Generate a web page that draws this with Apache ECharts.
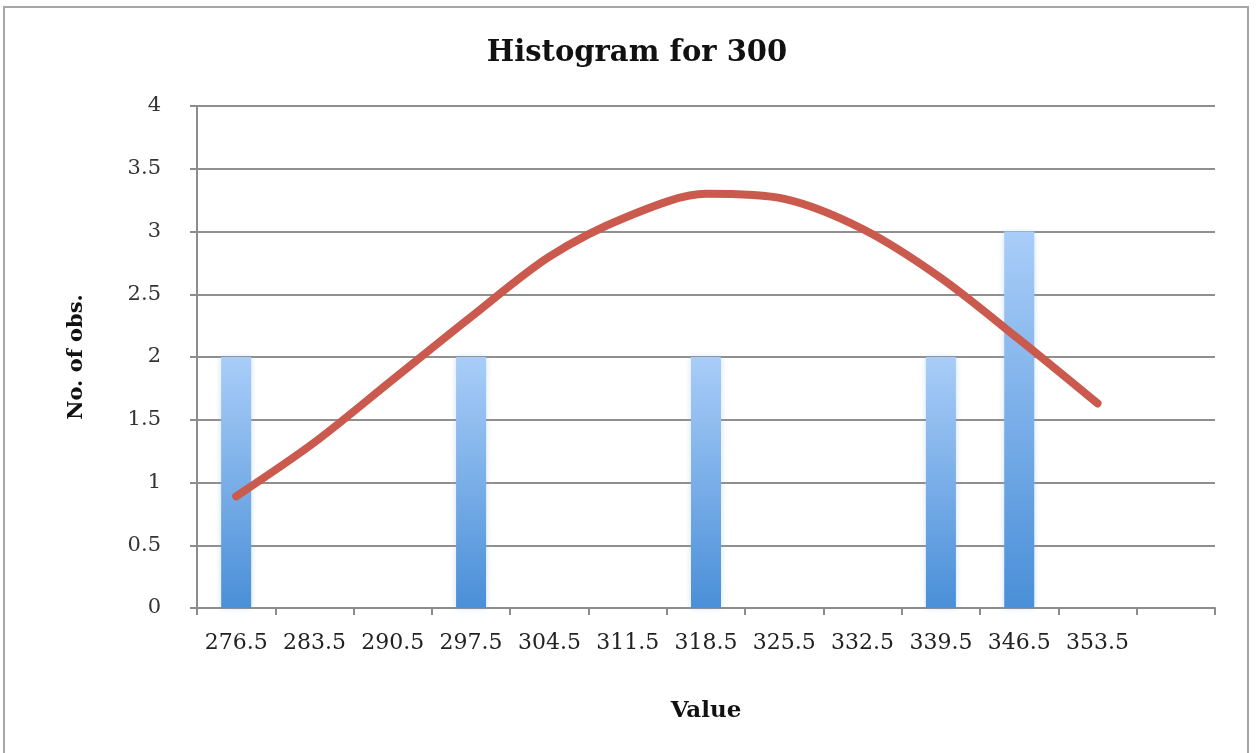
<!DOCTYPE html>
<html>
<head>
<meta charset="utf-8">
<script src="https://cdn.jsdelivr.net/npm/echarts@6/dist/echarts.min.js"></script>
<style>
html,body{margin:0;padding:0;background:#fff;}
#frame{position:absolute;left:3px;top:6px;width:1246px;height:760px;border:2px solid #a6a6a6;box-sizing:border-box;}
#chart{position:absolute;left:0;top:0;width:1257px;height:753px;}
</style>
</head>
<body>
<div id="frame"></div>
<div id="chart"></div>
<script>
const categories = ['276.5','283.5','290.5','297.5','304.5','311.5','318.5','325.5','332.5','339.5','346.5','353.5',''];
const counts = [2, null, null, 2, null, null, 2, null, null, 2, 3, null, null];
const normalCurve = [0.89, 1.32, 1.82, 2.32, 2.80, 3.12, 3.30, 3.26, 3.02, 2.63, 2.14, 1.63, null];
const yTicks = [0, 0.5, 1, 1.5, 2, 2.5, 3, 3.5, 4];

const chart = echarts.init(document.getElementById('chart'), null, {renderer: 'canvas'});
const serif = '"DejaVu Serif", "Liberation Serif", serif';
chart.setOption({
  animation: false,
  backgroundColor: 'transparent',
  title: {
    text: 'Histogram for 300',
    left: 632, top: 34, textAlign: 'center',
    textStyle: {fontFamily: serif, fontWeight: 'bold', fontSize: 29, color: '#111'}
  },
  grid: {left: 197, right: 42, top: 106, bottom: 145},
  xAxis: {
    type: 'category',
    data: categories,
    boundaryGap: true,
    name: 'Value',
    nameLocation: 'middle',
    nameGap: 92,
    nameTextStyle: {fontFamily: serif, fontWeight: 'bold', fontSize: 23, color: '#111'},
    axisLine: {lineStyle: {color: '#8c8c8c', width: 2}},
    axisTick: {show: true, length: 7, lineStyle: {color: '#8c8c8c', width: 2}, alignWithLabel: false},
    axisLabel: {interval: 0, margin: 24, fontFamily: serif, fontSize: 22, color: '#222'}
  },
  yAxis: {
    type: 'value',
    min: 0, max: 4, interval: 0.5,
    name: 'No. of obs.',
    nameLocation: 'middle',
    nameGap: 110,
    nameTextStyle: {fontFamily: serif, fontWeight: 'bold', fontSize: 21, color: '#111'},
    axisLine: {show: true, lineStyle: {color: '#8c8c8c', width: 2}},
    axisTick: {show: true, length: 7, lineStyle: {color: '#8c8c8c', width: 2}},
    splitLine: {lineStyle: {color: '#8f8f8f', width: 2}},
    axisLabel: {margin: 36, fontFamily: serif, fontSize: 21, color: '#333',
      formatter: function (v) { return yTicks.indexOf(v) >= 0 ? String(v) : ''; }}
  },
  series: [
    {
      type: 'bar',
      data: counts,
      barWidth: 30,
      z: 2,
      itemStyle: {
        color: new echarts.graphic.LinearGradient(0, 0, 0, 1, [
          {offset: 0, color: '#a9cdf8'},
          {offset: 1, color: '#4a8fd8'}
        ]),
        shadowBlur: 6,
        shadowColor: 'rgba(120,170,230,0.35)'
      }
    },
    {
      type: 'line',
      data: normalCurve,
      smooth: 0.3,
      showSymbol: false,
      symbol: 'none',
      z: 3,
      lineStyle: {color: '#cb5a4e', width: 8, cap: 'round', join: 'round'}
    }
  ]
});
</script>
</body>
</html>
